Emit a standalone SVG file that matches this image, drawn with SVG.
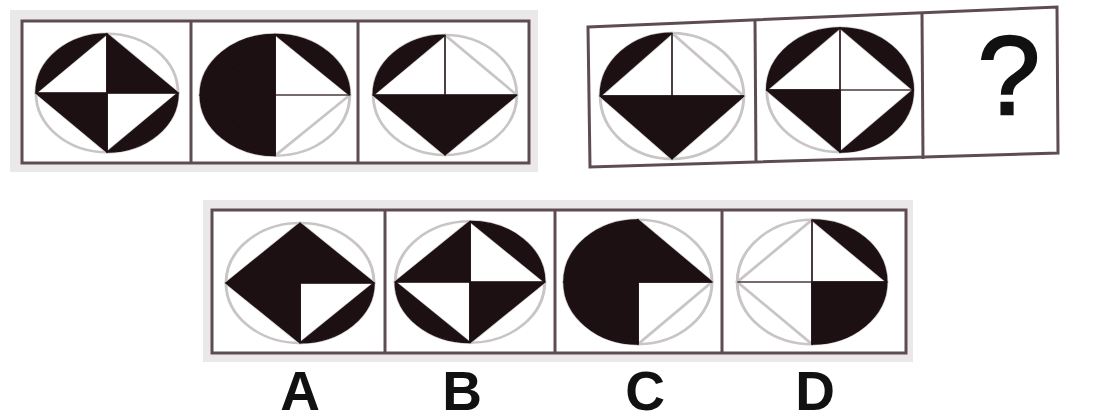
<svg xmlns="http://www.w3.org/2000/svg" xmlns:xlink="http://www.w3.org/1999/xlink" width="1099" height="420" viewBox="0 0 1099 420">
<style>
.frame{fill:#ffffff;stroke:#5e4c54;stroke-width:3}
.band{fill:#ebe8ea}
.div{stroke:#5e4c54;stroke-width:3}
.ghost{fill:none;stroke:#c9c5c7;stroke-width:3}
.cross{stroke:#4a3a3c;stroke-width:2}
.blk{fill:#1c1012;stroke:#1c1012;stroke-width:1.5;stroke-linejoin:round}
.lbl{font-family:"Liberation Sans",Arial,sans-serif;font-weight:bold;font-size:55px;fill:#111;text-anchor:middle}
.q{font-family:"Liberation Sans",Arial,sans-serif;font-size:112px;fill:#111;stroke:#111;stroke-width:2.5;text-anchor:middle}
</style>
<defs>
<g id="base">
<ellipse cx="0" cy="0" rx="74" ry="74" class="ghost"/>
<path d="M-74,0 L0,-74 L74,0 L0,74 Z" class="ghost"/>
<path d="M-74,0 H74 M0,-74 V74" class="cross"/>
</g>
<path id="ttl" d="M0,0 L-74,0 L0,-74 Z"/>
<path id="ttr" d="M0,0 L0,-74 L74,0 Z"/>
<path id="tbr" d="M0,0 L74,0 L0,74 Z"/>
<path id="tbl" d="M0,0 L0,74 L-74,0 Z"/>
<path id="stl" d="M-74,0 A74,74 0 0 1 0,-74 Z"/>
<path id="str" d="M0,-74 A74,74 0 0 1 74,0 Z"/>
<path id="sbr" d="M74,0 A74,74 0 0 1 0,74 Z"/>
<path id="sbl" d="M0,74 A74,74 0 0 1 -74,0 Z"/>
</defs>
<rect width="1099" height="420" fill="#ffffff"/>

<!-- panel 1 -->
<g id="panel1">
<rect x="10" y="10" width="528" height="162" class="band"/>
<rect x="22" y="21" width="507" height="142" class="frame"/>
<line x1="191" y1="21" x2="191" y2="163" class="div"/>
<line x1="358" y1="21" x2="358" y2="163" class="div"/>
</g>
<g id="fig1" transform="translate(107,93) scale(0.96,0.80)">
<use xlink:href="#base"/>
<g class="blk"><use xlink:href="#ttr"/><use xlink:href="#tbl"/><use xlink:href="#stl"/><use xlink:href="#sbr"/></g>
</g>
<g id="fig2" transform="translate(275,95) scale(1.01,0.82)">
<use xlink:href="#base"/>
<g class="blk"><use xlink:href="#ttl"/><use xlink:href="#tbl"/><use xlink:href="#stl"/><use xlink:href="#sbl"/><use xlink:href="#str"/></g>
</g>
<g id="fig3" transform="translate(445,95) scale(0.97,0.81)">
<use xlink:href="#base"/>
<g class="blk"><use xlink:href="#tbl"/><use xlink:href="#tbr"/><use xlink:href="#stl"/></g>
</g>

<!-- panel 2 -->
<g id="panel2">
<polygon points="588,27 1057,7 1058,153 590,167" class="frame"/>
<line x1="755" y1="20" x2="756" y2="163" class="div"/>
<line x1="922" y1="13" x2="923" y2="159" class="div"/>
<text x="1009" y="114" class="q">?</text>
</g>
<g id="fig4" transform="translate(672,96) scale(0.97,0.85)">
<use xlink:href="#base"/>
<g class="blk"><use xlink:href="#tbl"/><use xlink:href="#tbr"/><use xlink:href="#stl"/></g>
</g>
<g id="fig5" transform="translate(840,90) scale(0.99,0.84)">
<use xlink:href="#base"/>
<g class="blk"><use xlink:href="#tbl"/><use xlink:href="#stl"/><use xlink:href="#str"/><use xlink:href="#sbr"/></g>
</g>

<!-- options -->
<g id="panel3">
<rect x="203" y="200" width="710" height="162" class="band"/>
<rect x="212" y="210" width="694" height="143" class="frame"/>
<line x1="385" y1="210" x2="385" y2="353" class="div"/>
<line x1="555" y1="210" x2="555" y2="353" class="div"/>
<line x1="722" y1="210" x2="722" y2="353" class="div"/>
</g>
<g id="optA" transform="translate(300,283) scale(1.0,0.81)">
<use xlink:href="#base"/>
<g class="blk"><use xlink:href="#ttl"/><use xlink:href="#ttr"/><use xlink:href="#tbl"/><use xlink:href="#sbr"/></g>
</g>
<g id="optB" transform="translate(470,282) scale(1.01,0.82)">
<use xlink:href="#base"/>
<g class="blk"><use xlink:href="#ttl"/><use xlink:href="#tbr"/><use xlink:href="#str"/><use xlink:href="#sbl"/></g>
</g>
<g id="optC" transform="translate(638,282) scale(1.0,0.84)">
<use xlink:href="#base"/>
<g class="blk"><use xlink:href="#ttl"/><use xlink:href="#ttr"/><use xlink:href="#tbl"/><use xlink:href="#stl"/><use xlink:href="#sbl"/></g>
</g>
<g id="optD" transform="translate(812,282) scale(1.01,0.84)">
<use xlink:href="#base"/>
<g class="blk"><use xlink:href="#tbr"/><use xlink:href="#str"/><use xlink:href="#sbr"/></g>
</g>

<g id="labels">
<text x="300" y="410" class="lbl">A</text>
<text x="462" y="410" class="lbl">B</text>
<text x="645" y="410" class="lbl">C</text>
<text x="815" y="410" class="lbl">D</text>
</g>
</svg>
